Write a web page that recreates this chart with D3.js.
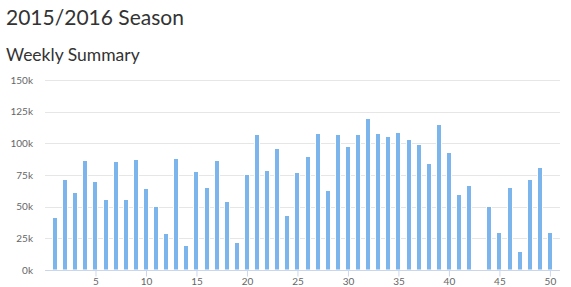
<!DOCTYPE html>
<html>
<head>
<meta charset="utf-8">
<script src="https://cdn.jsdelivr.net/npm/d3@7"></script>
<style>
  html, body { margin: 0; padding: 0; background: #fff; }
  svg { display: block; }
  text { font-family: Lato, "Noto Sans", sans-serif; }
</style>
</head>
<body>
<svg id="chart" width="571" height="287"></svg>
<script>
const weeks = d3.range(1, 51);
const visits = [42200, 72000, 61700, 87200, 70600, 56400, 86200, 56000, 88000, 64900,
                50700, 29400, 88500, 19400, 78500, 65900, 87200, 54100, 22300, 75900,
                107400, 79300, 96600, 43600, 77700, 90300, 108200, 63100, 107400, 98000,
                107400, 120300, 108200, 106100, 108800, 103700, 99800, 84300, 115300, 93500,
                60100, 67200, null, 50700, 30000, 65900, 14700, 72200, 81400, 30000];
const yTicks = [0, 25000, 50000, 75000, 100000, 125000, 150000];
const xTicks = [5, 10, 15, 20, 25, 30, 35, 40, 45, 50];
const title = "2015/2016 Season";
const subtitle = "Weekly Summary";

const svg = d3.select("#chart");
const plotLeft = 45, plotRight = 560, plotTop = 80, plotBottom = 270;

svg.append("text").attr("x", 6).attr("y", 25).attr("font-size", 21)
  .attr("fill", "#333").text(title);
svg.append("text").attr("x", 6).attr("y", 61).attr("font-size", 17.5)
  .attr("fill", "#333").text(subtitle);

const x = d3.scaleLinear().domain([0, 51]).range([plotLeft, plotRight]);
const y = d3.scaleLinear().domain([0, 150000]).range([plotBottom, plotTop]);

// gridlines
svg.append("g").selectAll("line").data(yTicks.slice(1)).join("line")
  .attr("x1", plotLeft).attr("x2", plotRight)
  .attr("y1", d => Math.round(y(d)) + 0.5).attr("y2", d => Math.round(y(d)) + 0.5)
  .attr("stroke", "#e6e6e6").attr("stroke-width", 1);

// y labels
const yAxis = d3.axisLeft(y).tickValues(yTicks).tickSize(0).tickPadding(0)
  .tickFormat(d => (d / 1000) + "k");
const gy = svg.append("g").attr("transform", `translate(33,0)`).call(yAxis);
gy.select(".domain").remove();
gy.selectAll("text").attr("font-size", 10).attr("fill", "#666")
  .style("font-family", "Lato, 'Noto Sans', sans-serif");

// bars
svg.append("g").selectAll("rect").data(weeks.map((w, i) => ({w, v: visits[i]})).filter(d => d.v != null))
  .join("rect")
  .attr("x", d => Math.round(x(d.w)) - 3 + 0.5)
  .attr("width", 5)
  .attr("y", d => Math.round(y(d.v)) + 0.5)
  .attr("height", d => plotBottom - Math.round(y(d.v)) - 0.5)
  .attr("fill", "#7cb5ec").attr("stroke", "#fff").attr("stroke-width", 1);

// x axis
const xAxis = d3.axisBottom(x).tickValues(xTicks).tickSize(6).tickPadding(1).tickSizeOuter(0);
const gx = svg.append("g").attr("transform", `translate(0,${plotBottom + 0.5})`).call(xAxis);
gx.select(".domain").attr("stroke", "#ccd6eb").attr("d", `M${plotLeft},0H${plotRight}`);
gx.selectAll(".tick line").attr("stroke", "#ccd6eb");
gx.selectAll("text").attr("font-size", 10).attr("fill", "#666")
  .style("font-family", "Lato, 'Noto Sans', sans-serif");
</script>
</body>
</html>
